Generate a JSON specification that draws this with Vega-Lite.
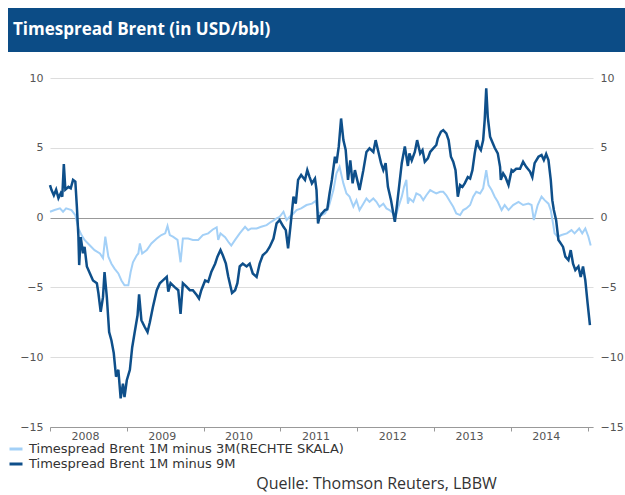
{
  "$schema": "https://vega.github.io/schema/vega-lite/v6.json",
  "padding": {"left": 8, "top": 8, "right": 0, "bottom": 2},
  "background": "white",
  "spacing": 20,
  "config": {"view": {"stroke": null}, "font": "DejaVu Sans"},
  "datasets": {
    "d9": [
      {"t":2008.00,"v":2.33},{"t":2008.02,"v":1.97},{"t":2008.05,"v":1.6},{"t":2008.08,"v":2.0},{"t":2008.11,"v":1.4},{"t":2008.14,"v":1.75},{"t":2008.16,"v":1.5},{"t":2008.18,"v":3.83},{"t":2008.20,"v":2.0},{"t":2008.24,"v":2.2},{"t":2008.27,"v":2.1},{"t":2008.30,"v":2.7},{"t":2008.33,"v":2.57},{"t":2008.35,"v":0.77},{"t":2008.37,"v":-1.37},{"t":2008.38,"v":-3.4},{"t":2008.40,"v":-1.4},{"t":2008.43,"v":-2.55},{"t":2008.45,"v":-2.1},{"t":2008.48,"v":-3.5},{"t":2008.52,"v":-4.0},{"t":2008.56,"v":-4.5},{"t":2008.61,"v":-4.7},{"t":2008.63,"v":-5.4},{"t":2008.66,"v":-6.75},{"t":2008.69,"v":-5.7},{"t":2008.71,"v":-3.9},{"t":2008.74,"v":-5.7},{"t":2008.77,"v":-8.2},{"t":2008.80,"v":-8.8},{"t":2008.83,"v":-9.7},{"t":2008.86,"v":-11.4},{"t":2008.89,"v":-10.9},{"t":2008.92,"v":-12.95},{"t":2008.95,"v":-11.9},{"t":2008.97,"v":-12.85},{"t":2009.00,"v":-11.65},{"t":2009.04,"v":-10.9},{"t":2009.07,"v":-9.3},{"t":2009.10,"v":-8.3},{"t":2009.14,"v":-7.0},{"t":2009.16,"v":-5.5},{"t":2009.19,"v":-7.35},{"t":2009.23,"v":-7.8},{"t":2009.27,"v":-8.2},{"t":2009.30,"v":-7.5},{"t":2009.34,"v":-6.4},{"t":2009.39,"v":-5.2},{"t":2009.43,"v":-4.7},{"t":2009.47,"v":-4.5},{"t":2009.52,"v":-4.25},{"t":2009.54,"v":-5.3},{"t":2009.57,"v":-4.7},{"t":2009.62,"v":-4.96},{"t":2009.67,"v":-5.2},{"t":2009.70,"v":-6.9},{"t":2009.73,"v":-4.7},{"t":2009.78,"v":-4.96},{"t":2009.82,"v":-5.2},{"t":2009.86,"v":-5.2},{"t":2009.91,"v":-5.55},{"t":2009.94,"v":-5.8},{"t":2009.97,"v":-5.2},{"t":2010.02,"v":-4.5},{"t":2010.06,"v":-4.6},{"t":2010.10,"v":-3.9},{"t":2010.15,"v":-3.3},{"t":2010.18,"v":-2.8},{"t":2010.22,"v":-2.33},{"t":2010.25,"v":-2.7},{"t":2010.29,"v":-3.3},{"t":2010.32,"v":-4.2},{"t":2010.37,"v":-5.4},{"t":2010.41,"v":-5.2},{"t":2010.44,"v":-4.7},{"t":2010.47,"v":-3.5},{"t":2010.51,"v":-3.3},{"t":2010.56,"v":-3.5},{"t":2010.60,"v":-3.3},{"t":2010.64,"v":-4.0},{"t":2010.69,"v":-4.25},{"t":2010.73,"v":-3.3},{"t":2010.77,"v":-2.7},{"t":2010.82,"v":-2.45},{"t":2010.86,"v":-2.1},{"t":2010.91,"v":-1.5},{"t":2010.95,"v":-0.42},{"t":2010.99,"v":-0.18},{"t":2011.04,"v":-0.66},{"t":2011.07,"v":-0.9},{"t":2011.10,"v":-2.2},{"t":2011.13,"v":-0.66},{"t":2011.17,"v":1.5},{"t":2011.20,"v":1.0},{"t":2011.23,"v":2.7},{"t":2011.27,"v":3.05},{"t":2011.32,"v":2.7},{"t":2011.35,"v":3.4},{"t":2011.38,"v":2.9},{"t":2011.41,"v":2.45},{"t":2011.45,"v":2.8},{"t":2011.47,"v":1.97},{"t":2011.49,"v":-0.42},{"t":2011.51,"v":0.06},{"t":2011.54,"v":0.3},{"t":2011.58,"v":0.54},{"t":2011.61,"v":0.6},{"t":2011.64,"v":1.73},{"t":2011.67,"v":2.7},{"t":2011.71,"v":4.36},{"t":2011.73,"v":3.9},{"t":2011.76,"v":5.1},{"t":2011.79,"v":7.1},{"t":2011.82,"v":5.55},{"t":2011.85,"v":4.84},{"t":2011.88,"v":2.7},{"t":2011.91,"v":4.1},{"t":2011.94,"v":2.45},{"t":2011.97,"v":3.4},{"t":2012.00,"v":2.7},{"t":2012.03,"v":1.97},{"t":2012.08,"v":3.4},{"t":2012.12,"v":4.7},{"t":2012.16,"v":4.96},{"t":2012.21,"v":4.7},{"t":2012.24,"v":5.55},{"t":2012.27,"v":4.84},{"t":2012.31,"v":3.9},{"t":2012.34,"v":3.4},{"t":2012.37,"v":3.9},{"t":2012.40,"v":2.2},{"t":2012.44,"v":1.25},{"t":2012.47,"v":0.3},{"t":2012.49,"v":-0.3},{"t":2012.52,"v":1.0},{"t":2012.55,"v":2.45},{"t":2012.58,"v":3.9},{"t":2012.62,"v":5.1},{"t":2012.66,"v":3.7},{"t":2012.68,"v":4.6},{"t":2012.71,"v":4.1},{"t":2012.75,"v":4.7},{"t":2012.78,"v":5.55},{"t":2012.82,"v":4.6},{"t":2012.85,"v":4.84},{"t":2012.88,"v":4.0},{"t":2012.92,"v":4.24},{"t":2012.95,"v":4.7},{"t":2012.99,"v":4.96},{"t":2013.03,"v":5.2},{"t":2013.05,"v":5.68},{"t":2013.09,"v":6.15},{"t":2013.12,"v":6.27},{"t":2013.16,"v":6.03},{"t":2013.19,"v":5.55},{"t":2013.22,"v":4.36},{"t":2013.25,"v":4.0},{"t":2013.28,"v":3.4},{"t":2013.31,"v":1.5},{"t":2013.34,"v":2.33},{"t":2013.37,"v":2.2},{"t":2013.40,"v":2.45},{"t":2013.44,"v":2.9},{"t":2013.47,"v":2.8},{"t":2013.50,"v":3.4},{"t":2013.53,"v":4.6},{"t":2013.56,"v":5.55},{"t":2013.58,"v":5.1},{"t":2013.61,"v":4.84},{"t":2013.64,"v":5.55},{"t":2013.66,"v":7.0},{"t":2013.68,"v":9.26},{"t":2013.70,"v":7.2},{"t":2013.73,"v":5.8},{"t":2013.76,"v":5.4},{"t":2013.79,"v":5.0},{"t":2013.83,"v":4.6},{"t":2013.86,"v":3.64},{"t":2013.87,"v":2.7},{"t":2013.90,"v":3.17},{"t":2013.93,"v":2.9},{"t":2013.97,"v":2.33},{"t":2014.01,"v":3.4},{"t":2014.03,"v":3.3},{"t":2014.07,"v":3.5},{"t":2014.12,"v":3.5},{"t":2014.16,"v":4.0},{"t":2014.20,"v":3.64},{"t":2014.25,"v":3.3},{"t":2014.28,"v":2.9},{"t":2014.31,"v":3.9},{"t":2014.36,"v":4.36},{"t":2014.40,"v":4.48},{"t":2014.43,"v":4.12},{"t":2014.46,"v":4.55},{"t":2014.49,"v":4.12},{"t":2014.52,"v":2.7},{"t":2014.54,"v":1.25},{"t":2014.56,"v":0.54},{"t":2014.59,"v":-0.18},{"t":2014.62,"v":-1.6},{"t":2014.65,"v":-1.85},{"t":2014.68,"v":-2.1},{"t":2014.71,"v":-2.8},{"t":2014.75,"v":-3.05},{"t":2014.78,"v":-2.33},{"t":2014.81,"v":-3.3},{"t":2014.84,"v":-3.76},{"t":2014.88,"v":-3.5},{"t":2014.91,"v":-4.25},{"t":2014.94,"v":-3.5},{"t":2014.97,"v":-4.5},{"t":2015.00,"v":-6.15},{"t":2015.03,"v":-7.7}
    ],
    "d3": [
      {"t":2008.00,"v":0.42},{"t":2008.06,"v":0.54},{"t":2008.13,"v":0.66},{"t":2008.17,"v":0.42},{"t":2008.21,"v":0.66},{"t":2008.28,"v":0.54},{"t":2008.33,"v":0.18},{"t":2008.37,"v":-0.77},{"t":2008.41,"v":-1.25},{"t":2008.45,"v":-1.6},{"t":2008.52,"v":-2.0},{"t":2008.58,"v":-2.33},{"t":2008.65,"v":-2.57},{"t":2008.69,"v":-2.9},{"t":2008.72,"v":-1.37},{"t":2008.76,"v":-2.8},{"t":2008.80,"v":-3.3},{"t":2008.84,"v":-3.65},{"t":2008.89,"v":-4.0},{"t":2008.93,"v":-4.5},{"t":2008.97,"v":-4.85},{"t":2009.02,"v":-4.85},{"t":2009.05,"v":-3.9},{"t":2009.08,"v":-3.2},{"t":2009.13,"v":-2.7},{"t":2009.15,"v":-2.57},{"t":2009.17,"v":-1.85},{"t":2009.20,"v":-2.57},{"t":2009.26,"v":-2.33},{"t":2009.32,"v":-1.85},{"t":2009.39,"v":-1.5},{"t":2009.45,"v":-1.25},{"t":2009.50,"v":-1.13},{"t":2009.53,"v":-0.6},{"t":2009.56,"v":-1.25},{"t":2009.60,"v":-1.37},{"t":2009.66,"v":-1.6},{"t":2009.70,"v":-3.2},{"t":2009.73,"v":-1.5},{"t":2009.80,"v":-1.5},{"t":2009.86,"v":-1.6},{"t":2009.93,"v":-1.6},{"t":2009.99,"v":-1.25},{"t":2010.06,"v":-1.13},{"t":2010.12,"v":-0.85},{"t":2010.17,"v":-0.7},{"t":2010.19,"v":-1.6},{"t":2010.22,"v":-1.13},{"t":2010.28,"v":-1.4},{"t":2010.33,"v":-1.8},{"t":2010.36,"v":-2.0},{"t":2010.41,"v":-1.6},{"t":2010.47,"v":-1.13},{"t":2010.54,"v":-0.66},{"t":2010.58,"v":-0.9},{"t":2010.62,"v":-0.78},{"t":2010.69,"v":-0.78},{"t":2010.75,"v":-0.66},{"t":2010.82,"v":-0.54},{"t":2010.88,"v":-0.3},{"t":2010.95,"v":-0.06},{"t":2010.99,"v":0.06},{"t":2011.04,"v":0.42},{"t":2011.08,"v":-0.18},{"t":2011.12,"v":0.06},{"t":2011.17,"v":0.3},{"t":2011.21,"v":0.54},{"t":2011.27,"v":0.66},{"t":2011.34,"v":0.9},{"t":2011.41,"v":1.0},{"t":2011.46,"v":1.2},{"t":2011.49,"v":0.42},{"t":2011.54,"v":0.18},{"t":2011.58,"v":0.3},{"t":2011.63,"v":0.78},{"t":2011.69,"v":1.97},{"t":2011.73,"v":3.17},{"t":2011.77,"v":3.64},{"t":2011.82,"v":2.45},{"t":2011.86,"v":1.73},{"t":2011.90,"v":1.5},{"t":2011.95,"v":0.78},{"t":2011.99,"v":1.25},{"t":2012.03,"v":0.54},{"t":2012.08,"v":1.0},{"t":2012.12,"v":1.37},{"t":2012.16,"v":1.13},{"t":2012.21,"v":1.37},{"t":2012.25,"v":1.13},{"t":2012.29,"v":0.78},{"t":2012.34,"v":1.0},{"t":2012.38,"v":0.66},{"t":2012.42,"v":0.54},{"t":2012.47,"v":0.3},{"t":2012.49,"v":-0.18},{"t":2012.53,"v":0.66},{"t":2012.58,"v":1.5},{"t":2012.61,"v":2.2},{"t":2012.64,"v":2.7},{"t":2012.66,"v":1.0},{"t":2012.68,"v":1.37},{"t":2012.73,"v":1.13},{"t":2012.77,"v":1.73},{"t":2012.82,"v":1.6},{"t":2012.86,"v":1.25},{"t":2012.90,"v":1.6},{"t":2012.95,"v":1.97},{"t":2012.99,"v":1.85},{"t":2013.03,"v":1.73},{"t":2013.08,"v":1.85},{"t":2013.12,"v":1.85},{"t":2013.16,"v":1.6},{"t":2013.21,"v":1.13},{"t":2013.25,"v":0.78},{"t":2013.29,"v":0.3},{"t":2013.34,"v":0.18},{"t":2013.38,"v":0.54},{"t":2013.42,"v":0.66},{"t":2013.47,"v":0.9},{"t":2013.51,"v":1.5},{"t":2013.55,"v":1.85},{"t":2013.60,"v":1.73},{"t":2013.64,"v":2.1},{"t":2013.68,"v":3.4},{"t":2013.71,"v":2.33},{"t":2013.75,"v":1.97},{"t":2013.79,"v":1.5},{"t":2013.83,"v":1.13},{"t":2013.88,"v":0.54},{"t":2013.92,"v":0.9},{"t":2013.97,"v":0.54},{"t":2014.03,"v":0.9},{"t":2014.10,"v":1.13},{"t":2014.16,"v":0.9},{"t":2014.23,"v":1.0},{"t":2014.27,"v":0.9},{"t":2014.30,"v":-0.18},{"t":2014.35,"v":0.9},{"t":2014.40,"v":1.5},{"t":2014.44,"v":1.25},{"t":2014.49,"v":1.0},{"t":2014.52,"v":0.54},{"t":2014.55,"v":-0.42},{"t":2014.57,"v":-1.13},{"t":2014.61,"v":-1.37},{"t":2014.66,"v":-1.25},{"t":2014.73,"v":-1.13},{"t":2014.79,"v":-0.9},{"t":2014.83,"v":-1.13},{"t":2014.89,"v":-0.78},{"t":2014.93,"v":-1.13},{"t":2014.97,"v":-0.78},{"t":2015.01,"v":-1.37},{"t":2015.04,"v":-2.0}
    ]
  },
  "vconcat": [
    {
      "width": 617,
      "height": 44,
      "view": {"fill": "#0c4c86", "stroke": null},
      "data": {"values": [{"label": "Timespread Brent (in USD/bbl)"}]},
      "mark": {"type": "text", "font": "Open Sans", "fontWeight": "bold", "fontSize": 17, "color": "white", "align": "left", "baseline": "middle"},
      "encoding": {"text": {"field": "label"}, "x": {"value": 5}, "y": {"value": 22}}
    },
    {
      "spacing": 0,
      "hconcat": [
        {
          "width": 1,
          "height": 10,
          "data": {"values": [{"label": ""}]},
          "mark": {"type": "text"},
          "encoding": {"text": {"field": "label"}}
        },
        {
          "width": 543,
          "height": 349,
          "title": {"text": "Quelle: Thomson Reuters, LBBW", "orient": "bottom", "anchor": "middle", "dx": 55, "offset": 35, "font": "Open Sans", "fontSize": 16, "fontWeight": "normal", "color": "#333333"},
          "layer": [
            {
              "data": {"name": "d3"},
              "mark": {"type": "line", "strokeWidth": 2},
              "encoding": {
                "x": {"field": "t", "type": "quantitative", "scale": {"domain": [2008, 2015.07], "nice": false, "zero": false},
                  "axis": {"values": [2008, 2009, 2010, 2011, 2012, 2013, 2014, 2015], "labelExpr": "datum.value < 2015 ? format(datum.value, 'd') : ''", "labelOffset": 35, "labelFlush": false, "labelOverlap": false, "grid": false, "domainColor": "#999999", "tickColor": "#999999", "tickSize": 4, "labelColor": "#555555", "labelFontSize": 11, "labelPadding": -1, "title": null}},
                "y": {"field": "v", "type": "quantitative", "scale": {"domain": [-15, 10], "nice": false, "zero": false},
                  "axis": {"orient": "right", "values": [-15, -10, -5, 0, 5, 10], "grid": false, "domain": false, "ticks": false, "labelPadding": 7, "labelColor": "#555555", "labelFontSize": 11, "title": null}},
                "color": {"datum": "Timespread Brent 1M minus 3M(RECHTE SKALA)", "type": "nominal",
                  "scale": {"domain": ["Timespread Brent 1M minus 3M(RECHTE SKALA)", "Timespread Brent 1M minus 9M"], "range": ["#a3d0f7", "#0e4f8a"]},
                  "legend": {"orient": "none", "legendX": 0, "legendY": 433, "title": null, "symbolType": "stroke", "symbolStrokeWidth": 3, "symbolSize": 169, "labelFontSize": 13, "labelLimit": 500, "labelColor": "#333333", "rowPadding": -3, "labelOffset": 5}}
              }
            },
            {
              "data": {"name": "d9"},
              "mark": {"type": "line", "strokeWidth": 2.5},
              "encoding": {
                "x": {"field": "t", "type": "quantitative"},
                "y": {"field": "v", "type": "quantitative", "scale": {"domain": [-15, 10], "nice": false, "zero": false},
                  "axis": {"orient": "left", "values": [-15, -10, -5, 0, 5, 10], "grid": true, "gridColor": {"condition": {"test": "datum.value === 0", "value": "#999999"}, "value": "#dddddd"}, "gridWidth": 1.2, "domain": false, "ticks": false, "labelPadding": 7, "minExtent": 41, "labelColor": "#555555", "labelFontSize": 11, "title": null}},
                "color": {"datum": "Timespread Brent 1M minus 9M", "type": "nominal"}
              }
            }
          ],
          "resolve": {"scale": {"y": "independent"}}
        }
      ]
    }
  ]
}
